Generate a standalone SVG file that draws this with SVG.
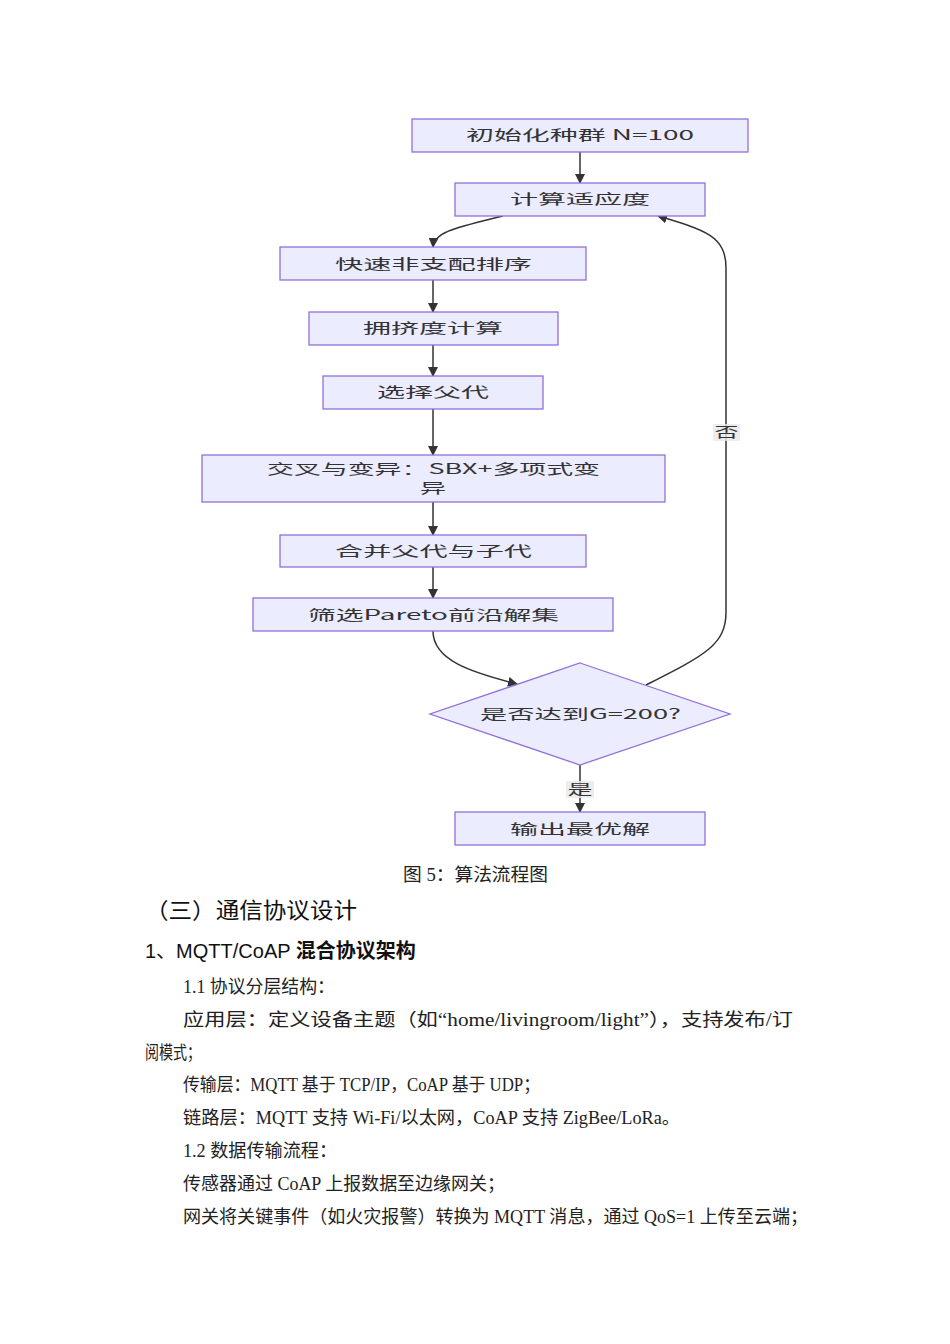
<svg xmlns="http://www.w3.org/2000/svg" width="950" height="1344" viewBox="0 0 950 1344">
<defs>
<marker id="arr" viewBox="0 0 10 10" refX="9" refY="5" markerWidth="10" markerHeight="10" markerUnits="userSpaceOnUse" orient="auto">
<path d="M0,0 L10,5 L0,10 z" fill="#333"/>
</marker>
<style>
.box{fill:#ECECFF;stroke:#9370DB;stroke-width:1.3}
.nt{font-family:"Noto Sans CJK SC","Noto Sans",sans-serif;font-size:14px;fill:#333;text-anchor:start}
.edge{fill:none;stroke:#333;stroke-width:1.5;marker-end:url(#arr)}
.lbl{font-family:"Noto Sans CJK SC",sans-serif;font-size:14px;fill:#333}
.lblbg{fill:#e8e8e8;opacity:0.8}
.cap{font-family:"Liberation Serif","Noto Sans CJK SC",serif;font-size:18px;fill:#222}
.body{font-family:"Liberation Serif","Noto Sans CJK SC",serif;font-size:18px;fill:#222}
.h1{font-family:"Noto Sans CJK SC",sans-serif;font-size:22px;fill:#111}
.h2{font-family:"Liberation Sans","Noto Sans CJK SC",sans-serif;font-size:20px;fill:#111}
</style>
</defs>
<rect width="950" height="1344" fill="#fff"/>

<g id="connectors">
<path class="edge" d="M580,152 L580,183"/>
<path class="edge" d="M503,216 C455,228 434,232 433,247"/>
<path class="edge" d="M433,280 L433,312"/>
<path class="edge" d="M433,345 L433,376"/>
<path class="edge" d="M433,409 L433,455"/>
<path class="edge" d="M433,502 L433,535"/>
<path class="edge" d="M433,567 L433,598"/>
<path class="edge" d="M433,631 C433,660 470,672 517,684"/>
<path class="edge" d="M646,685 C705,655 726,645 726,612 L726,268 C726,236 705,230 658,216"/>
<path class="edge" d="M580,765 L580,812"/>
<g id="label-no">
<rect class="lblbg" x="713" y="424" width="27" height="17"/>
<text class="lbl" x="726.5" y="437" text-anchor="middle" textLength="24" lengthAdjust="spacingAndGlyphs">否</text>
</g>
<g id="label-yes">
<rect class="lblbg" x="566" y="781" width="28" height="17"/>
<text class="lbl" x="580" y="794" text-anchor="middle" textLength="25" lengthAdjust="spacingAndGlyphs">是</text>
</g>
</g>

<g id="n1">
<rect class="box" x="412" y="119" width="336" height="33"/>
<text class="nt" x="466" y="140" textLength="228" lengthAdjust="spacingAndGlyphs">初始化种群 N=100</text>
</g>
<g id="n2">
<rect class="box" x="455" y="183" width="250" height="33"/>
<text class="nt" x="510" y="204" textLength="140" lengthAdjust="spacingAndGlyphs">计算适应度</text>
</g>
<g id="n3">
<rect class="box" x="280" y="247" width="306" height="33"/>
<text class="nt" x="335" y="269" textLength="197" lengthAdjust="spacingAndGlyphs">快速非支配排序</text>
</g>
<g id="n4">
<rect class="box" x="309" y="312" width="249" height="33"/>
<text class="nt" x="363" y="333" textLength="140" lengthAdjust="spacingAndGlyphs">拥挤度计算</text>
</g>
<g id="n5">
<rect class="box" x="323" y="376" width="220" height="33"/>
<text class="nt" x="377" y="397" textLength="112" lengthAdjust="spacingAndGlyphs">选择父代</text>
</g>
<g id="n6">
<rect class="box" x="202" y="455" width="463" height="47"/>
<text class="nt" x="267" y="474" textLength="333" lengthAdjust="spacingAndGlyphs">交叉与变异：SBX+多项式变</text>
<text class="nt" x="420" y="493" textLength="26" lengthAdjust="spacingAndGlyphs">异</text>
</g>
<g id="n7">
<rect class="box" x="280" y="535" width="306" height="32"/>
<text class="nt" x="335" y="556" textLength="197" lengthAdjust="spacingAndGlyphs">合并父代与子代</text>
</g>
<g id="n8">
<rect class="box" x="253" y="598" width="360" height="33"/>
<text class="nt" x="308" y="620" textLength="251" lengthAdjust="spacingAndGlyphs">筛选Pareto前沿解集</text>
</g>
<g id="n9">
<polygon class="box" points="580,663 730,714 580,765 430,714"/>
<text class="nt" x="480" y="719" textLength="201" lengthAdjust="spacingAndGlyphs">是否达到G=200?</text>
</g>
<g id="n10">
<rect class="box" x="455" y="812" width="250" height="33"/>
<text class="nt" x="510" y="834" textLength="140" lengthAdjust="spacingAndGlyphs">输出最优解</text>
</g>

<g id="text">
<text class="cap" x="403" y="881" textLength="145" lengthAdjust="spacingAndGlyphs">图 5：算法流程图</text>
<text class="h1" x="145" y="918" textLength="212" lengthAdjust="spacingAndGlyphs">（三）通信协议设计</text>
<text class="h2" x="145" y="958">1、MQTT/CoAP <tspan font-family="Noto Sans CJK SC,sans-serif" font-weight="bold">混合协议架构</tspan></text>
<text class="body" x="183" y="993" textLength="152" lengthAdjust="spacingAndGlyphs">1.1 协议分层结构：</text>
<text class="body" x="183" y="1026" textLength="610" lengthAdjust="spacingAndGlyphs">应用层：定义设备主题（如“home/livingroom/light”），支持发布/订</text>
<text class="body" x="145" y="1059" textLength="56" lengthAdjust="spacingAndGlyphs">阅模式；</text>
<text class="body" x="183" y="1091" textLength="357" lengthAdjust="spacingAndGlyphs">传输层：MQTT 基于 TCP/IP，CoAP 基于 UDP；</text>
<text class="body" x="183" y="1124" textLength="497" lengthAdjust="spacingAndGlyphs">链路层：MQTT 支持 Wi-Fi/以太网，CoAP 支持 ZigBee/LoRa。</text>
<text class="body" x="183" y="1157" textLength="154" lengthAdjust="spacingAndGlyphs">1.2 数据传输流程：</text>
<text class="body" x="183" y="1190" textLength="322" lengthAdjust="spacingAndGlyphs">传感器通过 CoAP 上报数据至边缘网关；</text>
<text class="body" x="183" y="1223" textLength="625" lengthAdjust="spacingAndGlyphs">网关将关键事件（如火灾报警）转换为 MQTT 消息，通过 QoS=1 上传至云端；</text>
</g>
</svg>
